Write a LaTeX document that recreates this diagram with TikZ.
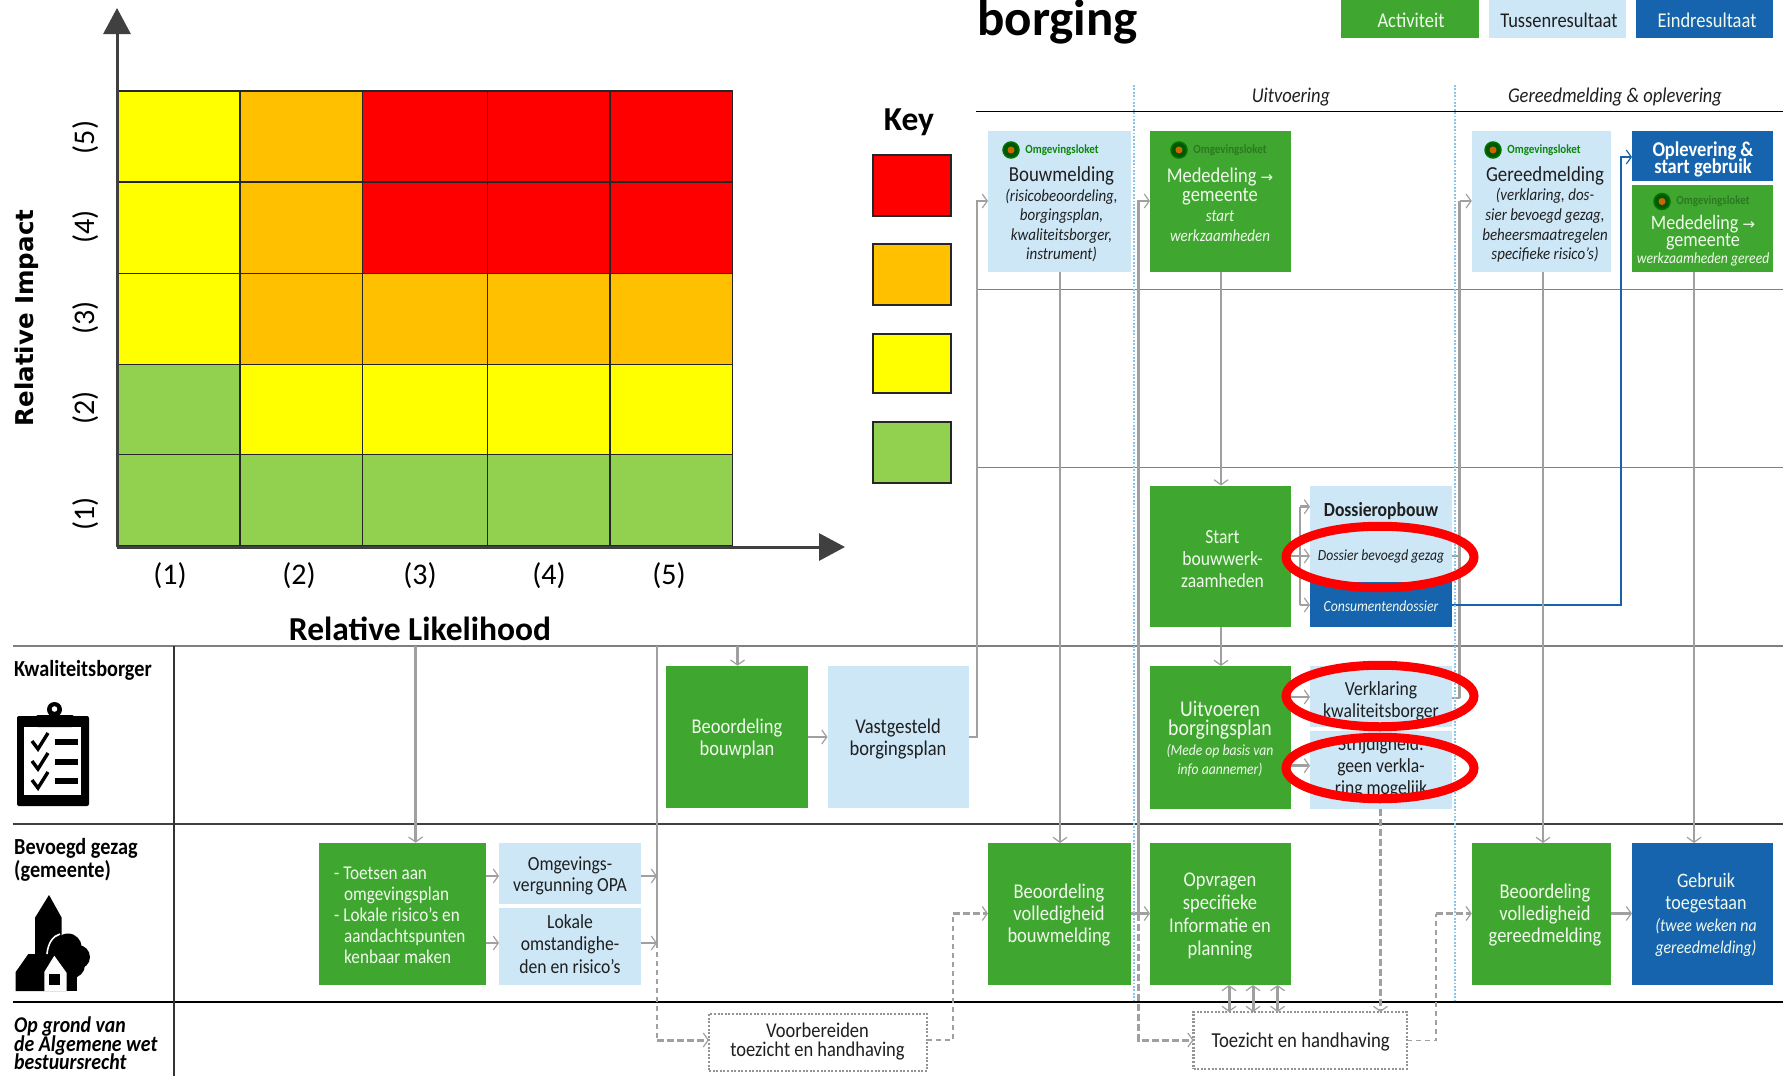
\documentclass[tikz,border=0pt]{standalone}
\usepackage{fontspec}
\setmainfont[FakeStretch=0.88]{Carlito}
\newfontfamily\plainf{Carlito}
\newfontfamily\arrowf{DejaVu Sans}
\newfontfamily\wideb{DejaVu Sans}
\usetikzlibrary{arrows.meta,shapes.geometric,calc}
\definecolor{actg}{HTML}{3FA72F}
\definecolor{tusb}{HTML}{CDE7F7}
\definecolor{einb}{HTML}{1764AE}
\definecolor{arrg}{HTML}{A0A0A0}
\definecolor{axisg}{HTML}{404040}
\definecolor{hred}{HTML}{FF0000}
\definecolor{horg}{HTML}{FFC000}
\definecolor{hyel}{HTML}{FFFF00}
\definecolor{hgrn}{HTML}{92D050}
\definecolor{dotb}{HTML}{8CC4E8}
\definecolor{palew}{HTML}{F0F9EC}
\newcommand{\fs}[2]{\fontsize{#1}{#2}\selectfont}
\newcommand{\bx}[6]{\node[#2,minimum width={(#5)-(#3)},minimum height={(#6)-(#4)}] (#1) at ({((#3)+(#5))/2},{((#4)+(#6))/2}) {};}
\newcommand{\logo}[5]{%
  \node[logodot] (#1i) at (#2,#3) {};
  \node[logotxt,text=#5] (#1t) at (#4,#3) {Omgevingsloket};}
\tikzset{
  x=1pt,y=-1pt,
  cell/.style={draw=black!85,line width=1.3pt,inner sep=0pt,outer sep=0pt},
  act/.style={fill=actg,inner sep=0pt,outer sep=0pt},
  tus/.style={fill=tusb,inner sep=0pt,outer sep=0pt},
  ein/.style={fill=einb,inner sep=0pt,outer sep=0pt},
  dotbox/.style={draw=gray!85,dash pattern=on 2pt off 1.6pt,line width=2.4pt,inner sep=0pt,outer sep=0pt},
  twht/.style={align=center,text=palew,inner sep=0pt},
  tblk/.style={align=center,text=black!88,inner sep=0pt},
  rowl/.style={line width=1.3pt},
  conn/.style={draw=arrg,line width=2.8pt,-{Straight Barb[length=5pt,width=14pt,line width=1.2pt]}},
  dconn/.style={draw=arrg,line width=3pt,dash pattern=on 7pt off 3pt,-{Straight Barb[length=5pt,width=14pt,line width=1.2pt]}},
  bothc/.style={draw=arrg,line width=3pt,{Straight Barb[length=5pt,width=14pt,line width=1.2pt]}-{Straight Barb[length=5pt,width=14pt,line width=1.2pt]}},
  tconn/.style={draw=arrg,line width=1.7pt,dash pattern=on 5pt off 4pt},
  plainc/.style={draw=arrg,line width=2.8pt},
  bconn/.style={draw=einb,line width=2.6pt,-{Straight Barb[length=5pt,width=14pt,line width=1.2pt]}},
  axisl/.style={draw=axisg,line width=3pt,-{Triangle[length=26pt,width=27pt]}},
  ring/.style={ellipse,draw=red,line width=9pt,minimum width=188pt,minimum height=61.5pt,inner sep=0pt},
  bluedot/.style={draw=dotb,line width=2.6pt,dash pattern=on 1.8pt off 1.6pt},
  logodot/.style={circle,fill=green!35!black,draw=green!45!black,line width=1.5pt,minimum size=16pt,inner sep=0pt,path picture={\fill[orange!80!black] (path picture bounding box.center) circle (3.5pt);}},
  logotxt/.style={font=\fs{12.5}{14}\bfseries,inner sep=0pt},
  tick/.style={font=\plainf\fs{30}{32},inner sep=0pt},
  lane/.style={anchor=west,align=left,inner sep=0pt,text=black},
}
\begin{document}
\begin{tikzpicture}
\lineskiplimit=-30pt
\useasboundingbox (0,0) rectangle (1783,1076);
\fill[white] (0,0) rectangle (1783,1076);

% ---------- risk matrix
\foreach \r/\ya/\yb/\ca/\cb/\cc/\cd/\ce in {
 5/91/182/hyel/horg/hred/hred/hred,
 4/182/273.5/hyel/horg/hred/hred/hred,
 3/273.5/364.5/hyel/horg/horg/horg/horg,
 2/364.5/454.5/hgrn/hyel/hyel/hyel/hyel,
 1/454.5/546/hgrn/hgrn/hgrn/hgrn/hgrn}{
  \bx{c\r a}{cell,fill=\ca}{117}{\ya}{240}{\yb}
  \bx{c\r b}{cell,fill=\cb}{240}{\ya}{362.5}{\yb}
  \bx{c\r c}{cell,fill=\cc}{362.5}{\ya}{487.5}{\yb}
  \bx{c\r d}{cell,fill=\cd}{487.5}{\ya}{610}{\yb}
  \bx{c\r e}{cell,fill=\ce}{610}{\ya}{732.5}{\yb}
}
\coordinate (orig) at (117,547);
\coordinate (ytip) at (117,8);
\coordinate (xtip) at (845,547);
\draw[axisl] (orig) -- (ytip);
\draw[axisl] (orig) -- (xtip);
\node[tick] (xl1) at (170,576) {(1)};
\node[tick] (xl2) at (299,576) {(2)};
\node[tick] (xl3) at (420,576) {(3)};
\node[tick] (xl4) at (549,576) {(4)};
\node[tick] (xl5) at (669,576) {(5)};
\node[tick,rotate=90] (yl5) at (86,137.5) {(5)};
\node[tick,rotate=90] (yl4) at (86,227) {(4)};
\node[tick,rotate=90] (yl3) at (86,318) {(3)};
\node[tick,rotate=90] (yl2) at (86,408) {(2)};
\node[tick,rotate=90] (yl1) at (86,514) {(1)};
\node[inner sep=0pt,font=\plainf\bfseries\fs{33.5}{34}] (xlab) at (420,629) {Relative Likelihood};
\node[inner sep=0pt,rotate=90,font=\wideb\bfseries\fs{24.5}{28}] (ylab) at (27,318) {Relative Impact};
\node[inner sep=0pt,font=\plainf\bfseries\fs{33.5}{34}] (keyt) at (909,122) {Key};
\bx{k1}{cell,line width=1.6pt,fill=hred}{873}{155}{951}{216}
\bx{k2}{cell,line width=1.6pt,fill=horg}{873}{244}{951}{305}
\bx{k3}{cell,line width=1.6pt,fill=hyel}{873}{334}{951}{393}
\bx{k4}{cell,line width=1.6pt,fill=hgrn}{873}{422}{951}{483}

% ---------- title and legend
\node[anchor=base west,inner sep=0pt,font=\plainf\bfseries\fs{51}{54}] (title) at (977,35) {borging};
\bx{lga}{act}{1341}{0}{1479}{38}
\bx{lgt}{tus}{1489}{0}{1626}{38}
\bx{lge}{ein}{1636}{0}{1773}{38}
\node[twht,font=\fs{21}{23}] (lgat) at (1411,20) {Activiteit};
\node[tblk,font=\fs{21}{23}] (lgtt) at (1559,20) {Tussenresultaat};
\node[twht,font=\fs{21}{23}] (lget) at (1707,20) {Eindresultaat};
\node[tblk,font=\itshape\fs{21}{23}] (hu) at (1291,97) {Uitvoering};
\node[tblk,font=\itshape\fs{21}{23}] (hg) at (1615,97) {Gereedmelding \& oplevering};

% ---------- swimlane rules
\draw[rowl,black] (976,111.5) -- (1783,111.5);
\draw[rowl,gray] (976,289.5) -- (1783,289.5);
\draw[rowl,gray] (976,467.5) -- (1783,467.5);
\draw[rowl,gray] (12.5,646) -- (1783,646);
\draw[rowl,black!75] (12.5,824) -- (1783,824);
\draw[rowl,black] (12.5,1002) -- (1783,1002);
\draw[rowl,black!80] (174,646) -- (174,1076);

% ---------- lane labels
\node[lane,font=\bfseries\fs{23}{24}] (lk) at (14,670) {Kwaliteitsborger};
\node[lane,font=\bfseries\fs{23}{23},anchor=north west] (lb) at (14,838) {Bevoegd gezag\\(gemeente)};
\node[lane,font=\bfseries\itshape\fs{22.5}{18.5}] (lo) at (14,1043.5) {Op grond van\\de Algemene wet\\bestuursrecht};

% clipboard icon
\fill[black,rounded corners=2pt] (17,716) rectangle (89,806);
\fill[white] (24,727) rectangle (81,795);
\fill[black,rounded corners=2pt] (36,715) rectangle (74,727);
\fill[black] (54.5,709.5) circle (7.5);
\fill[white] (54.5,709) circle (2.8);
\foreach \yy in {742,762,781}{
  \draw[black,line width=3.4pt] (32,\yy-1) -- (38,\yy+7) -- (48,\yy-9);
  \fill[black] (55,\yy-3.5) rectangle (77.5,\yy+3);
}
% church icon
\fill[black] (15.7,991) -- (15.7,972) -- (28.3,954) -- (35,954) -- (35,917.7) -- (49,895) -- (61.7,917.7) -- (61.7,965) -- (66,991) -- cycle;
\fill[black] (68,947) circle (13.5);
\fill[black] (78,957) circle (12);
\fill[black] (72,965) circle (13);
\fill[black] (62,955) circle (9);
\fill[black] (62,965) rectangle (76.7,991);
\draw[white,line width=1.6pt] (47,954) .. controls (48,943) and (53,936) .. (60,934);
\fill[white] (54.3,955.7) -- (44.3,972) -- (44.3,991) -- (66.7,991) -- (66.7,973) -- cycle;
\fill[black] (49,974.3) rectangle (60,985);

% ---------- boxes, left part
\bx{toets}{act}{319}{842.7}{486}{984.7}
\bx{omg}{tus}{499}{842.7}{640.6}{904}
\bx{lok}{tus}{499}{908}{640.6}{984.7}
\bx{bbp}{act}{666}{665.7}{807.5}{808}
\bx{vast}{tus}{827.5}{665.7}{969}{808}
\bx{voorb}{dotbox,fill=white}{709}{1014}{927}{1071}
\node[twht,lane,text=palew,font=\fs{19.5}{21}] (toetst) at (334,915.5) {- Toetsen aan\\[-0.2pt]\hspace*{10pt}omgevingsplan\\\hspace*{0pt}- Lokale risico’s en\\\hspace*{10pt}aandachtspunten\\\hspace*{10pt}kenbaar maken};
\node[tblk,font=\fs{20}{21.5}] (omgt) at (570,876) {Omgevings-\\vergunning OPA};
\node[tblk,font=\fs{20}{22.5}] (lokt) at (570,944) {Lokale\\omstandighe-\\den en risico’s};
\node[twht,font=\fs{21}{22}] (bbpt) at (737,739) {Beoordeling\\bouwplan};
\node[tblk,font=\fs{21}{22}] (vastt) at (898,739) {Vastgesteld\\borgingsplan};
\node[tblk,font=\fs{21}{19}] (voorbt) at (817.5,1041.5) {Voorbereiden\\toezicht en handhaving};

% ---------- boxes, middle and right columns
\bx{bouw}{tus}{988}{130.7}{1130.6}{271.7}
\bx{mede}{act}{1150}{130.7}{1290.7}{271.7}
\bx{gereed}{tus}{1471.8}{130.7}{1611}{271.7}
\bx{oplev}{ein}{1632}{130.7}{1772.6}{181}
\bx{medg}{act}{1632}{185}{1772.6}{271.7}
\bx{start}{act}{1150}{485.5}{1290.7}{627.3}
\bx{dosop}{tus}{1310}{485.5}{1452}{582}
\bx{cons}{ein}{1310}{582}{1452}{627.3}
\bx{uitv}{act}{1150}{666}{1290.7}{808.6}
\bx{verk}{tus}{1310}{666}{1452}{727}
\bx{strij}{tus}{1310}{731}{1452}{808.6}
\bx{bvb}{act}{988}{843}{1130.6}{985}
\bx{opvr}{act}{1150}{843}{1290.7}{985}
\bx{bvg}{act}{1471.8}{843}{1611}{985}
\bx{gebr}{ein}{1632}{843}{1772.6}{985}
\bx{toez}{dotbox,fill=white}{1193.6}{1012}{1407}{1069}

\logo{l1}{1011}{150}{1062}{green!50!black!80!actg}
\logo{l2}{1179}{150}{1230}{actg!72!black}
\logo{l3}{1493}{150}{1544}{green!50!black!80!actg}
\logo{l4}{1662}{201.5}{1713}{actg!72!black}

\node[tblk,font=\itshape\fs{17}{19.6}] (bouwt) at (1061.5,214.5) {{\upshape\fs{21.4}{19.6}Bouwmelding}\\(risicobeoordeling,\\borgingsplan,\\kwaliteitsborger,\\instrument)};
\node[twht,font=\itshape\fs{17}{19.6}] (medet) at (1220,204.5) {{\upshape\fs{21}{19.6}Mededeling {\arrowf\fs{15}{19}→}}\\{\upshape\fs{21}{19.6}gemeente}\\start\\werkzaamheden};
\node[tblk,font=\itshape\fs{17}{19.6}] (gereedt) at (1545,214.5) {{\upshape\fs{21.4}{19.6}Gereedmelding}\\(verklaring, dos-\\sier bevoegd gezag,\\beheersmaatregelen\\specifieke risico’s)};
\node[twht,text=white,font=\bfseries\fs{21}{17}] (oplevt) at (1703,159) {Oplevering \&\\start gebruik};
\node[twht,font=\fs{20.5}{17}] (medgt) at (1703,240.5) {Mededeling {\arrowf\fs{15}{17}→}\\gemeente\\{\itshape\fs{15.5}{17}werkzaamheden gereed}};
\node[twht,font=\fs{20}{22.4}] (startt) at (1222.5,559) {Start\\bouwwerk-\\zaamheden};
\node[tblk,font=\bfseries\fs{20}{21}] (dost) at (1381,511.5) {Dossieropbouw};
\node[tblk,font=\itshape\fs{15.5}{17}] (dosb) at (1381,556) {Dossier bevoegd gezag};
\node[twht,font=\itshape\fs{15.5}{18}] (const) at (1381,606) {Consumentendossier};
\node[twht,font=\itshape\fs{15.5}{19.5}] (uitvt) at (1220,739) {{\upshape\fs{22.5}{23}Uitvoeren}\\{\upshape\fs{22.5}{22}borgingsplan}\\(Mede op basis van\\info aannemer)};
\node[tblk,font=\fs{20}{22}] (verkt) at (1381,701) {Verklaring\\kwaliteitsborger};
\node[tblk,font=\fs{20}{22}] (strijt) at (1381,767) {Strijdigheid:\\geen verkla-\\ring mogelijk};
\node[twht,font=\fs{21}{22}] (bvbt) at (1059,915) {Beoordeling\\volledigheid\\bouwmelding};
\node[twht,font=\fs{21}{23.3}] (opvrt) at (1220,916) {Opvragen\\specifieke\\Informatie en\\planning};
\node[twht,font=\fs{21}{22}] (bvgt) at (1545,915) {Beoordeling\\volledigheid\\gereedmelding};
\node[twht,font=\itshape\fs{18}{22.2}] (gebrt) at (1706,915) {{\upshape\fs{20.5}{22.2}Gebruik}\\{\upshape\fs{20.5}{22.2}toegestaan}\\(twee weken na\\gereedmelding)};
\node[tblk,font=\fs{21.3}{21}] (toezt) at (1300.7,1042) {Toezicht en handhaving};

% ---------- phase separators
\coordinate (phA) at (1134,85);
\coordinate (phAe) at (1134,1002.5);
\coordinate (phB) at (1455,85);
\coordinate (phBe) at (1455,1002.5);

% ---------- connectors
\coordinate (bendA) at (977,201);
\coordinate (bendB) at (1138.5,201);
\coordinate (bendC) at (1459.7,201);
\coordinate (bendD) at (1621,157);
\coordinate (rk) at (415.6,646);
\coordinate (rs) at (657,646);
\coordinate (rb) at (737.5,646);
\coordinate (rsEnd) at (657,943);
\coordinate (rsDot) at (657,1040);
\coordinate (vB) at (953,1040);
\coordinate (vC) at (953,913.5);
\coordinate (tB) at (1436,1040.5);
\coordinate (tC) at (1436,913.5);
\coordinate (brT) at (1300,506.7);
\coordinate (brB) at (1300,605);
\coordinate (bendE) at (1138.5,1040);
\coordinate (bendF) at (1138.5,913.5);

\draw[conn] (rk) -- (rk |- toets.north);
\draw[plainc] (rs) -- (rsEnd);
\draw[tconn] (rsEnd) -- (rsDot);
\draw[dconn] (rsDot) -- (voorb.west |- rsDot);
\draw[conn] (rb) -- (rb |- bbp.north);
\draw[conn] (toets.east |- 0,876) -- (omg.west |- 0,876);
\draw[conn] (toets.east |- 0,943) -- (lok.west |- 0,943);
\draw[conn] (omg.east |- 0,876) -- (rs |- 0,876);
\draw[conn] (lok.east |- 0,943) -- (rsEnd);
\draw[conn] (bbp.east |- 0,737) -- (vast.west |- 0,737);
\draw[conn] (vast.east |- 0,737) -| (bendA) -- (bouw.west |- bendA);
\draw[tconn] (voorb.east |- vB) -- (vB) -- (vC);
\draw[dconn] (vC) -- (bvb.west |- vC);
\draw[conn] (bouw.south -| 1060,0) -- (bvb.north -| 1060,0);
\draw[conn] (bvb.east |- bendF) -- (opvr.west |- bendF);
\draw[conn] (bendF) -- (bendB) -- (mede.west |- bendB);
\draw[dconn] (bendF) -- (bendE) -- (toez.west |- bendE);
\draw[conn] (mede.south -| 1221,0) -- (start.north -| 1221,0);
\draw[conn] (start.south -| 1221,0) -- (uitv.north -| 1221,0);
\draw[plainc] (start.east |- 0,556) -- (brB |- 0,556);
\draw[plainc] (brT) -- (brB);
\draw[conn] (brT) -- (dosop.west |- brT);
\draw[conn] (brB |- 0,556) -- (dosop.west |- 0,556);
\draw[conn] (brB) -- (cons.west |- brB);
\draw[plainc] (dosop.east |- 0,556) -- (bendC |- 0,556);
\draw[plainc] (verk.east |- 0,698) -- (bendC |- 0,698);
\draw[plainc] (bendC |- 0,698) -- (bendC);
\draw[conn] (bendC) -- (gereed.west |- bendC);
\draw[bconn] (cons.east |- brB) -| (bendD) -- (oplev.west |- bendD);
\draw[conn] (uitv.east |- 0,697) -- (verk.west |- 0,697);
\draw[conn] (uitv.east |- 0,765.7) -- (strij.west |- 0,765.7);
\draw[dconn] (strij.south -| 1380.5,0) -- (toez.north -| 1380.5,0);
\foreach \xx in {1229,1253,1277.6}{
  \draw[bothc] (opvr.south -| \xx,0) -- (toez.north -| \xx,0);
}
\draw[tconn] (toez.east |- tB) -- (tB) -- (tC);
\draw[dconn] (tC) -- (bvg.west |- tC);
\draw[conn] (gereed.south -| 1543,0) -- (bvg.north -| 1543,0);
\draw[conn] (bvg.east |- bendF) -- (gebr.west |- bendF);
\draw[conn] (medg.south -| 1694,0) -- (gebr.north -| 1694,0);
\draw[bluedot] (phA) -- (phAe);
\draw[bluedot] (phB) -- (phBe);

% ---------- red rings
\node[ring] (r1) at (1380,557) {};
\node[ring] (r2) at (1380,696) {};
\node[ring] (r3) at (1380,768) {};
\end{tikzpicture}
\end{document}
